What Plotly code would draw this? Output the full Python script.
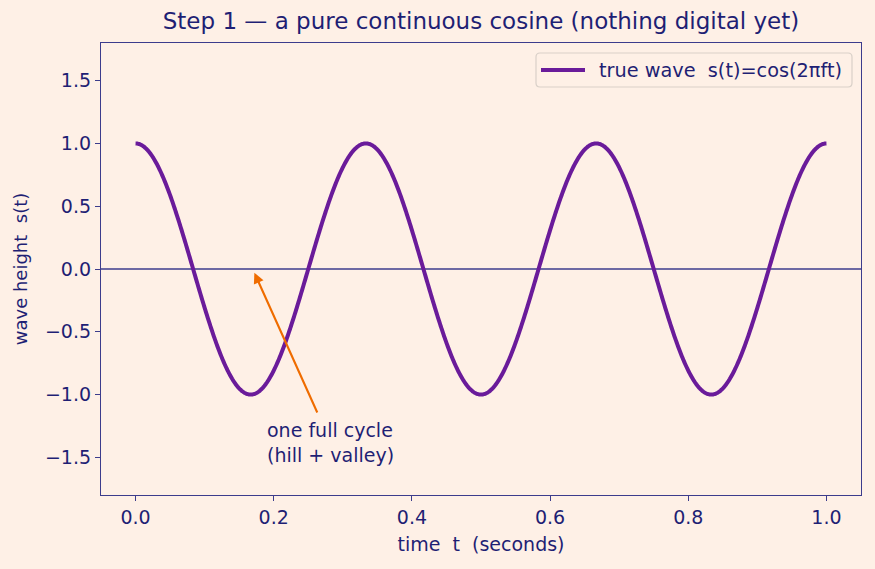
import numpy as np
import plotly.graph_objects as go

# ---- data ----
freq_hz = 3.0                      # three full cycles in one second
t_seconds = np.linspace(0.0, 1.0, 1201)
wave = np.cos(2 * np.pi * freq_hz * t_seconds)

x_ticks = [0.0, 0.2, 0.4, 0.6, 0.8, 1.0]
y_ticks = [-1.5, -1.0, -0.5, 0.0, 0.5, 1.0, 1.5]

series_name = "true wave  s(t)=cos(2πft)"
arrow_tip = (0.172, -0.03)
arrow_tail = (0.264, -1.155)
note_pos = (0.188, -1.38)
note_text = "one full cycle<br>(hill + valley)"

BG = "#FEF0E6"
NAVY = "#1F1F74"
AXIS = "#3C3C8C"
PURPLE = "#6A1B9A"
ORANGE = "#EF6C00"
FONT = "DejaVu Sans"
FS = 19

W, H = 875, 569
ML, MR, MT, MB = 101, 14, 43, 74
PW, PH = W - ML - MR, H - MT - MB


def px(x):
    return (x - ML) / PW


def py(y):
    return (H - MB - y) / PH


fig = go.Figure()
fig.add_trace(go.Scatter(
    x=t_seconds, y=wave, mode="lines",
    line=dict(color=PURPLE, width=4, simplify=False),
    name=series_name, showlegend=False,
))

fig.add_shape(type="line", xref="paper", x0=0, x1=1, yref="y", y0=0, y1=0,
              line=dict(color=AXIS, width=1.5), layer="below")

fig.add_annotation(x=arrow_tip[0], y=arrow_tip[1], ax=arrow_tail[0], ay=arrow_tail[1],
                   xref="x", yref="y", axref="x", ayref="y", text="",
                   showarrow=True, arrowhead=2, arrowsize=1.0, arrowwidth=2.1,
                   arrowcolor=ORANGE, standoff=0, startstandoff=0)
fig.add_annotation(x=note_pos[0], y=note_pos[1], xref="x", yref="y", text=note_text,
                   showarrow=False, xanchor="left", yanchor="middle", align="left",
                   font=dict(family=FONT, size=FS, color=NAVY))

# custom legend box (matplotlib style)
x0, x1, y0, y1 = 536, 852, 53, 87
r = 4
path = (f"M {px(x0 + r)},{py(y0)} L {px(x1 - r)},{py(y0)} "
        f"Q {px(x1)},{py(y0)} {px(x1)},{py(y0 + r)} L {px(x1)},{py(y1 - r)} "
        f"Q {px(x1)},{py(y1)} {px(x1 - r)},{py(y1)} L {px(x0 + r)},{py(y1)} "
        f"Q {px(x0)},{py(y1)} {px(x0)},{py(y1 - r)} L {px(x0)},{py(y0 + r)} "
        f"Q {px(x0)},{py(y0)} {px(x0 + r)},{py(y0)} Z")
fig.add_shape(type="path", path=path, xref="paper", yref="paper",
              fillcolor=BG, line=dict(color="#D9D0C8", width=1.2), layer="above")
fig.add_shape(type="line", xref="paper", yref="paper",
              x0=px(541), x1=px(585), y0=py(70), y1=py(70),
              line=dict(color=PURPLE, width=4), layer="above")
fig.add_annotation(x=px(597), y=py(70), xref="paper", yref="paper", text=series_name,
                   showarrow=False, xanchor="left", yanchor="middle",
                   font=dict(family=FONT, size=19.3, color=NAVY))

axis_common = dict(
    showgrid=False, zeroline=False, showline=True, mirror=True,
    linecolor=AXIS, linewidth=1.3, ticks="outside", ticklen=5, tickwidth=1.2,
    tickcolor=AXIS, tickfont=dict(family=FONT, size=FS, color=NAVY),
)

fig.update_layout(
    width=W, height=H,
    paper_bgcolor=BG, plot_bgcolor=BG,
    margin=dict(l=ML, r=MR, t=MT, b=MB),
    title=dict(text="Step 1 — a pure continuous cosine (nothing digital yet)",
               x=0.5, xref="paper", xanchor="center", y=1 - 21 / H, yanchor="middle",
               font=dict(family=FONT, size=23, color=NAVY)),
    xaxis=dict(range=[-0.05, 1.05], tickvals=x_ticks,
               ticktext=[f"{v:.1f}" for v in x_ticks],
               title=dict(text="time  t  (seconds)", standoff=10,
                          font=dict(family=FONT, size=FS, color=NAVY)),
               **axis_common),
    yaxis=dict(range=[-1.8, 1.8], tickvals=y_ticks,
               ticktext=[f"{v:.1f}".replace("-", "−") for v in y_ticks],
               title=dict(text="wave height  s(t)", standoff=12,
                          font=dict(family=FONT, size=18, color=NAVY)),
               **axis_common),
    showlegend=False,
)

fig.write_html("out.html")
